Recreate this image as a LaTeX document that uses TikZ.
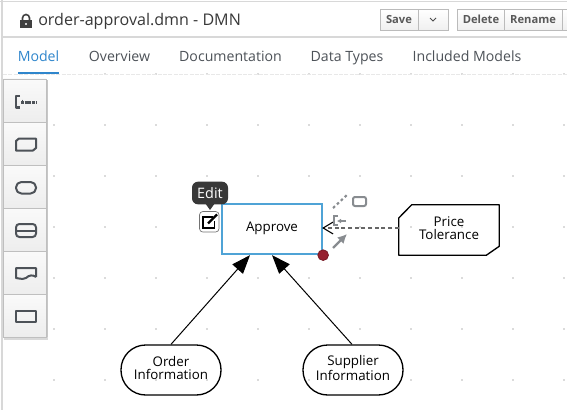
\documentclass[tikz,border=0pt]{standalone}
\usepackage{fontspec}
\setmainfont{Open Sans}
\usetikzlibrary{arrows.meta,calc}
\definecolor{iconc}{HTML}{4D5258}
\definecolor{tabc}{HTML}{4D5258}
\definecolor{linec}{HTML}{D8D8D8}
\definecolor{blueb}{HTML}{4FA3D6}
\definecolor{tabblue}{HTML}{2F86CC}
\definecolor{btnb}{HTML}{BBBBBB}
\definecolor{ctl}{HTML}{888C90}
\definecolor{redport}{HTML}{96202F}
\newcommand{\lowpad}{\rule[-3pt]{0pt}{3pt}}
\tikzset{
  x=0.75pt,y=-0.75pt,
  griddot/.style={fill=black!28,draw=none},
  tab/.style={font=\fontsize{10.6}{12}\selectfont,text=tabc,anchor=base,inner sep=0pt},
  btn/.style={draw=btnb,line width=0.7pt,top color=white,bottom color=black!6},
  btntxt/.style={font=\fontsize{8.4}{10}\selectfont\bfseries,text=black!65,anchor=base,inner sep=0pt},
  cell/.style={draw=black!25,line width=0.6pt,top color=black!2,bottom color=black!7},
  icon/.style={draw=iconc,line width=1.5pt,line join=round},
  dmnlabel/.style={font=\fontsize{10}{9.9}\selectfont,align=center,inner sep=0pt,text=black},
  dmnbox/.style={dmnlabel,minimum width=75pt,minimum height=37.5pt},
  infoedge/.style={draw=black,line width=0.75pt,-{Triangle[length=14pt,width=10.5pt]}},
  authedge/.style={draw=black!60,line width=0.9pt,dash pattern=on 3pt off 2pt}
}
\begin{document}
\begin{tikzpicture}
\useasboundingbox (0,0) rectangle (567,410);
\fill[white] (0,0) rectangle (567,410);
% canvas dots
\foreach \gx in {54,105,...,564}
  \foreach \gy in {74,125,176,227,278,329,380}
    \fill[griddot] (\gx,\gy) circle (0.7pt);
% chrome
\fill[white] (3,38) rectangle (567,73);
\draw[linec,line width=0.8pt] (0,1.5) -- (567,1.5);
\draw[linec,line width=1.4pt] (2,0) -- (2,410);
\draw[linec,line width=0.8pt] (3,37) -- (567,37);
\draw[linec!60,line width=0.6pt,dash pattern=on 3pt off 1pt] (3,74) -- (567,74);
% lock
\fill[black!75] (20,20) rectangle (32,28);
\draw[black!75,line width=1.2pt] (22.5,20) -- (22.5,18) arc[start angle=180,end angle=360,radius=3.5] -- (29.5,20);
\fill[white] (26,24) circle (0.9pt);
\node[anchor=base west,inner sep=0pt,font=\fontsize{12.05}{14}\selectfont,text=black!78] (title) at (38,25.5) {order-approval.dmn - DMN};
% buttons
\path[btn] (380,9) rectangle (418,30);
\path[btn] (418,9) rectangle (448,30);
\path[btn] (457,9) rectangle (504,30);
\path[btn] (504,9) rectangle (562,30);
\path[btn] (562,9) rectangle (570,30);
\node[btntxt] (save) at (399,24) {Save};
\draw[black!70,line width=0.6pt] (430,18) -- (433,21) -- (436,18);
\node[btntxt] (del) at (481,24) {Delete};
\node[btntxt] (ren) at (533,24) {Rename};
% tabs
\node[tab,text=tabblue] (tmodel) at (38.5,61) {Model};
\node[tab] (tover) at (119.5,61) {Overview};
\node[tab] (tdoc) at (230.5,61) {Documentation};
\node[tab] (tdata) at (347,61) {Data Types};
\node[tab] (tincl) at (467,61) {Included Models};
\fill[tabblue] (18,72) rectangle (59,73.6);
% palette
\fill[black!22] (45.5,80) rectangle (48,339);
\fill[black!15] (4,337) rectangle (48,339.5);
\foreach \a/\b in {79/122,122/165,165/208,208/251,251/294,294/337}
  \path[cell] (3.5,\a) rectangle (46,\b);
\draw[icon,line width=1.8pt] (20,96) -- (16,96) -- (16,107.5) -- (20,107.5);
\draw[iconc,line width=1.8pt,dash pattern=on 2.2pt off 0.6pt] (21,102.5) -- (36,102.5);
\draw[iconc,line width=0.8pt] (22.5,99.5) -- (22.5,103);
\draw[icon] (19,138.5) -- (36,138.5) -- (36,148) -- (33,150.5) -- (16,150.5) -- (16,141) -- cycle;
\draw[icon,rounded corners=4pt] (16,182) rectangle (36,193.5);
\draw[icon,rounded corners=2.5pt] (16,224) rectangle (36,237);
\draw[icon] (16,230.5) -- (36,230.5);
\draw[icon] (36,277) -- (36,268) -- (16,268) -- (16,278) .. controls (22,279) and (24,279.5) .. (26,278) .. controls (29,275) and (33,274.5) .. (36,277);
\draw[icon] (16,311) rectangle (36,322);
% decision and labels
\node[dmnbox,draw=blueb,line width=1.7pt,fill=white] (app) at (272,229) {Approve\lowpad};
\node[dmnbox,draw=black,line width=1pt,rounded corners=18.5pt] (ord) at (171,370) {Order\\Information\lowpad};
\node[dmnbox,draw=black,line width=1pt,rounded corners=18.5pt] (sup) at (353,370) {Supplier\\Information\lowpad};
\node[dmnbox] (price) at (449,230) {Price\\Tolerance\lowpad};
\draw[black,line width=1pt,line join=round]
  ([yshift=9pt]price.west) -- ([xshift=9.75pt]price.north west) -- (price.north east)
  -- ([yshift=6.75pt]price.south east) -- ([xshift=-9.75pt]price.south east)
  -- (price.south west) -- cycle;
% connectors
\draw[infoedge] (ord.north) -- ([xshift=-16.5pt]app.south);
\draw[infoedge] ([xshift=-0.75pt]sup.north) -- (app.south);
\coordinate (priceport) at ([yshift=1.5pt]price.west);
\coordinate (appport) at ([yshift=0.75pt]app.east);
\draw[authedge] (priceport) -- (appport);
\draw[black,line width=0.8pt] ([shift={(7.5pt,-4.5pt)}]appport) -- (appport) -- ([shift={(7.5pt,4.5pt)}]appport);
% selection controls
\draw[ctl,line width=1.6pt,dash pattern=on 2pt off 2pt] (333,208) -- (348,194);
\draw[ctl,line width=1.5pt,rounded corners=1.5pt] (353,197) rectangle (366,206);
\draw[ctl,line width=1.2pt] (338,216) -- (334,216) -- (334,225) -- (338,225);
\draw[ctl,line width=1.2pt,-{Latex[length=3pt,width=3.5pt]}] (346,221) -- (337,221);
\draw[ctl,line width=1.8pt,-{Latex[length=7pt,width=7pt]}] (333,248) -- (347,234);
\fill[redport,draw=redport!80!black,line width=0.6pt] (app.south east) circle (4pt);
% edit tooltip and icon
\fill[black!78] (205,203) -- (210,210) -- (215,203) -- cycle;
\node[fill=black!78,text=white,rounded corners=4.5pt,font=\fontsize{10.8}{12}\selectfont,minimum width=27pt,minimum height=17pt,inner sep=0pt] (tip) at (210,193) {Edit};
\draw[black!55,line width=0.5pt,rounded corners=2.5pt,fill=white] (199.5,211.5) rectangle (219,232);
\draw[black,line width=1.4pt] (213,217) -- (203,217) -- (203,228) -- (214.5,228) -- (214.5,221);
\draw[black,line width=1.6pt] (208,223.5) -- (217,214.5);
\end{tikzpicture}
\end{document}
